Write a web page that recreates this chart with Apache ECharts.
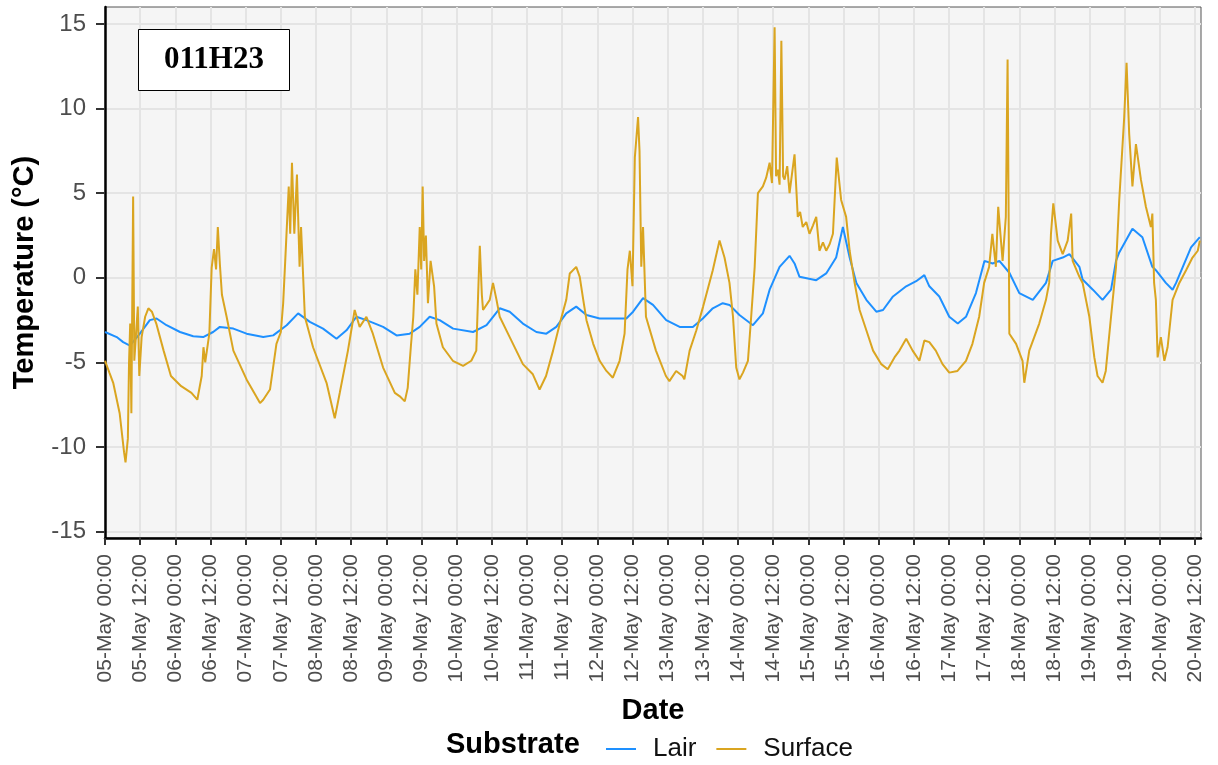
<!DOCTYPE html>
<html>
<head>
<meta charset="utf-8">
<script src="https://cdn.jsdelivr.net/npm/echarts@6/dist/echarts.min.js"></script>
<style>
html,body{margin:0;padding:0;background:#fff;}
#chart{width:1218px;height:765px;}
</style>
</head>
<body>
<div id="chart"></div>
<script>
// Hours elapsed since 05-May 00:00
const surfaceHours = [0,1.5,2.8,5.0,6.5,7.0,7.8,8.2,8.6,9.0,9.6,10.0,11.2,11.7,12.5,13.7,14.8,16.0,17.5,20.0,22.5,26.0,29.5,31.5,32.0,33.0,33.6,34.2,35.6,36.4,37.2,37.9,38.5,39.2,39.9,41.5,43.8,48.3,52.9,54.0,56.3,58.5,60.0,60.8,61.5,62.7,63.2,63.8,64.6,65.5,66.4,66.9,68.2,71.0,75.6,78.4,80.1,82.9,85.2,86.9,89.2,91.4,94.9,98.9,100.6,102.3,103.3,104.4,105.2,105.9,106.6,107.4,107.9,108.4,108.9,109.5,110.2,111.1,112.3,113.1,115.3,118.7,122.2,125.0,126.7,127.6,127.9,128.6,129.0,131.3,132.4,133.6,134.7,138.1,142.6,146.0,148.3,150.5,152.9,155.2,157.4,158.6,160.8,162.0,163.2,164.3,166.6,168.8,171.1,173.3,175.6,177.3,178.3,179.1,180.0,180.8,181.9,182.4,183.0,183.6,184.6,188.0,191.4,192.6,194.9,197.1,197.7,199.5,201.8,204.1,207.4,209.7,211.4,213.1,214.3,215.4,216.5,217.7,219.4,220.5,221.7,222.8,224.5,225.6,226.8,227.6,228.5,229.0,229.6,230.2,230.8,231.4,231.9,232.8,233.6,234.4,235.3,236.4,237.2,238.1,239.3,240.4,241.6,242.7,243.8,245.0,246.1,247.3,248.4,249.7,251.2,252.9,254.1,255.8,257.5,259.8,262.1,264.9,267.1,269.4,271.1,273.4,275.6,277.9,279.6,281.3,283.5,285.8,288.1,290.9,293.8,296.0,298.3,300.0,301.7,302.3,302.8,304.0,304.8,306.3,307.4,308.0,308.4,308.6,310.9,313.1,313.7,315.4,318.8,321.1,322.2,322.8,323.6,325.1,326.8,328.5,329.7,330.2,332.5,333.6,335.9,337.6,338.7,340.4,341.5,343.3,345.0,346.1,347.8,348.6,349.5,350.6,351.8,353.5,355.2,356.9,357.4,358.0,358.6,359.2,360.3,361.5,362.6,364.3,366.6,368.9,371.1,372.9,373.6];
const surfaceTemp = [-4.9,-5.6,-6.2,-8.0,-10.3,-10.9,-9.5,-5.0,-2.7,-8.0,4.8,-4.9,-1.7,-5.8,-3.5,-2.3,-1.8,-2.0,-2.7,-4.3,-5.8,-6.4,-6.8,-7.2,-7.3,-5.8,-4.1,-5.0,-3.3,0.6,1.7,0.5,3.0,0.8,-1.0,-2.3,-4.3,-6.0,-7.4,-7.2,-6.6,-3.9,-3.2,-1.5,1.0,5.4,2.6,6.8,2.6,6.1,0.65,3.0,-2.3,-4.1,-6.2,-8.3,-6.8,-4.3,-1.9,-2.9,-2.3,-3.3,-5.3,-6.8,-7.0,-7.3,-6.5,-4.0,-2.3,0.5,-1.0,3.0,0.5,5.4,1.0,2.5,-1.5,1.0,-0.5,-2.7,-4.1,-4.9,-5.2,-4.9,-4.3,0.45,1.9,-1.0,-1.9,-1.3,-0.3,-1.3,-2.3,-3.5,-5.1,-5.7,-6.6,-5.8,-4.3,-2.7,-1.3,0.26,0.65,0.06,-1.3,-2.5,-3.9,-4.9,-5.5,-5.9,-4.9,-3.3,0.5,1.6,-0.5,7.1,9.5,7.5,0.65,3.0,-2.3,-4.3,-5.8,-6.1,-5.5,-5.8,-6.0,-4.3,-3.1,-1.7,0.45,2.2,1.2,-0.3,-2.3,-5.3,-6.0,-5.6,-4.9,-2.3,0.65,5.0,5.4,5.9,6.8,5.6,14.8,6.0,6.4,5.5,14.0,6.0,5.8,6.6,5.0,6.1,7.3,3.6,3.9,3.0,3.3,2.6,3.1,3.6,1.6,2.1,1.6,2.0,2.6,7.1,4.6,3.6,1.6,-0.3,-1.9,-3.1,-4.3,-5.1,-5.4,-4.7,-4.3,-3.6,-4.3,-4.9,-3.7,-3.8,-4.3,-5.1,-5.6,-5.5,-4.9,-3.9,-2.3,-0.3,0.65,0.65,2.6,0.65,4.2,1.0,3.6,12.9,2.6,-3.3,-3.9,-4.9,-6.2,-4.3,-2.7,-1.3,-0.3,2.6,4.4,2.2,1.4,2.2,3.8,1.0,0.06,-0.3,-2.3,-4.7,-5.8,-6.2,-5.5,-2.3,0.65,4.6,9.5,12.7,8.5,5.4,7.9,5.8,4.2,3.0,3.8,-0.3,-1.3,-4.7,-3.5,-4.9,-4.1,-1.3,-0.3,0.45,1.2,1.6,2.2];

const lairHours = [0,4.0,6.2,8.5,11.9,15.3,17.6,21.0,25.6,30.1,33.5,36.9,39.2,43.8,48.3,54.0,57.4,62.0,65.9,69.9,74.4,79.0,82.4,85.8,89.2,94.9,99.5,104.0,107.4,110.8,114.2,118.8,125.6,130.2,134.7,138.1,142.6,147.2,150.6,154.0,157.4,160.8,164.3,168.8,173.3,177.9,180.2,183.6,187.0,191.5,196.1,200.6,204.0,207.4,210.8,213.1,216.5,221.1,224.5,226.8,230.2,233.6,235.3,237.0,242.7,246.1,249.5,251.8,254.1,256.4,259.8,263.2,265.5,268.9,273.4,276.8,279.6,281.3,284.7,288.1,291.0,293.8,297.2,300.1,302.9,305.2,308.6,312.0,316.6,321.1,323.4,326.8,329.1,332.5,333.6,337.1,340.4,343.3,345.0,346.1,350.6,354.0,357.4,358.6,362.0,364.3,365.5,367.8,370.6,373.6];
const lairTemp = [-3.2,-3.5,-3.8,-4.0,-3.3,-2.5,-2.4,-2.8,-3.2,-3.45,-3.5,-3.2,-2.9,-3.0,-3.3,-3.5,-3.4,-2.8,-2.1,-2.6,-3.0,-3.6,-3.1,-2.3,-2.5,-2.9,-3.4,-3.3,-2.9,-2.3,-2.5,-3.0,-3.2,-2.8,-1.8,-2.0,-2.7,-3.2,-3.3,-2.9,-2.1,-1.7,-2.2,-2.4,-2.4,-2.4,-2.0,-1.2,-1.6,-2.5,-2.9,-2.9,-2.4,-1.8,-1.5,-1.6,-2.2,-2.8,-2.1,-0.7,0.65,1.3,0.85,0.06,-0.14,0.26,1.2,3.0,1.2,-0.3,-1.3,-2.0,-1.9,-1.1,-0.5,-0.2,0.16,-0.5,-1.1,-2.3,-2.7,-2.3,-0.9,1.0,0.85,1.0,0.3,-0.9,-1.3,-0.3,1.0,1.2,1.4,0.65,-0.1,-0.7,-1.3,-0.7,1.0,1.5,2.9,2.4,0.65,0.45,-0.3,-0.7,-0.3,0.65,1.8,2.4];

const yTicks = [-15,-10,-5,0,5,10,15];
const xTicks = [];
for (let h = 0; h <= 372; h += 12) xTicks.push(h);
const seriesNames = ['Lair', 'Surface'];
const siteLabel = '011H23';

function pair(hs, vs){ return hs.map((h,i)=>[h, vs[i]]); }
function pad(n){ return (n<10?'0':'')+n; }
function hourLabel(h){
  const d = 5 + Math.floor(h/24);
  const hh = Math.round(h % 24);
  return pad(d) + '-May ' + pad(hh) + ':00';
}

const chart = echarts.init(document.getElementById('chart'), null, {renderer:'canvas'});
const SANS = '"Liberation Sans", Arial, sans-serif';
chart.setOption({
  animation: false,
  backgroundColor: '#ffffff',
  grid: {left:105, top:7, width:1096, height:531, show:true, backgroundColor:'#F5F5F5', borderColor:'#555555', borderWidth:1, containLabel:false},
  xAxis: {
    type:'value', min:0, max:374, interval:12,
    name:'Date', nameLocation:'middle', nameGap:158,
    nameTextStyle:{fontFamily:SANS, fontWeight:'bold', fontSize:29, color:'#000'},
    axisLine:{show:true, onZero:false, lineStyle:{color:'#000', width:2.5}},
    axisTick:{show:true, length:7, lineStyle:{color:'#333', width:2}, customValues:xTicks},
    axisLabel:{rotate:90, margin:16, fontFamily:SANS, fontSize:21, color:'#4D4D4D', customValues:xTicks,
      formatter:function(v){ return hourLabel(v); }},
    splitLine:{show:true, lineStyle:{color:'#E4E4E4', width:2}}
  },
  yAxis: {
    type:'value', min:-15.37, max:16.0, splitNumber:5,
    name:'Temperature (°C)', nameLocation:'middle', nameGap:66,
    nameTextStyle:{fontFamily:SANS, fontWeight:'bold', fontSize:29, color:'#000'},
    axisLine:{show:true, onZero:false, lineStyle:{color:'#000', width:2.5}},
    axisTick:{show:true, length:9, lineStyle:{color:'#333', width:2}, customValues:yTicks},
    axisLabel:{margin:19, fontFamily:SANS, fontSize:24, color:'#4D4D4D', customValues:yTicks},
    splitLine:{show:true, lineStyle:{color:'#E4E4E4', width:2}}
  },
  legend: {
    data: seriesNames, left:601, top:731, orient:'horizontal',
    icon:'rect', itemWidth:30, itemHeight:2, itemGap:20,
    textStyle:{fontFamily:SANS, fontSize:26, color:'#111', padding:[0,0,0,12]}
  },
  graphic: [
    {type:'text', left:446, top:730, style:{text:'Substrate', fontFamily:SANS, fontWeight:'bold', fontSize:29, fill:'#000'}},
    {type:'rect', shape:{x:138.5, y:29.5, width:151, height:61}, style:{fill:'#fff', stroke:'#000', lineWidth:1}, z:100},
    {type:'text', x:214, y:60, style:{text:siteLabel, fontFamily:'"Liberation Serif", "Times New Roman", serif', fontWeight:'bold', fontSize:31, fill:'#000', align:'center', verticalAlign:'middle'}, z:101}
  ],
  series: [
    {name:seriesNames[0], type:'line', data:pair(lairHours, lairTemp), showSymbol:false, symbol:'none', lineStyle:{color:'#1E90FF', width:2}, itemStyle:{color:'#1E90FF'}, z:2},
    {name:seriesNames[1], type:'line', data:pair(surfaceHours, surfaceTemp), showSymbol:false, symbol:'none', lineStyle:{color:'#DAA520', width:2}, itemStyle:{color:'#DAA520'}, z:3}
  ]
});
</script>
</body>
</html>
